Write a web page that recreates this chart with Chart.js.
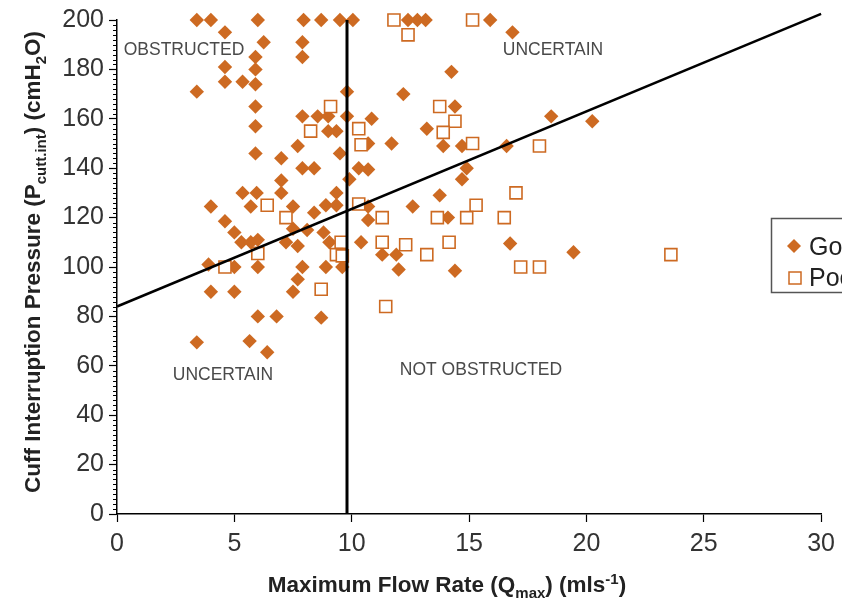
<!DOCTYPE html>
<html><head><meta charset="utf-8">
<script src="https://cdn.jsdelivr.net/npm/chart.js@4/dist/chart.umd.min.js"></script>
<style>html,body{margin:0;padding:0;background:#fff;}#wrap{width:842px;height:602px;position:relative;}</style>
</head><body><div id="wrap"><canvas id="c"></canvas></div>
<script>
// ---- data ----
const seriesNames = ['Good', 'Poor'];
const goodX = [3.4,4.0,6.0,7.95,8.7,9.5,10.05,12.4,12.8,13.15,15.9,16.85,
  4.6,6.25,5.9,7.9,7.9,4.6,5.9,4.6,5.35,5.9,3.4,9.8,
  5.9,5.9,5.9,7.9,8.55,9.0,9.8,9.0,9.35,7.7,7.0,9.5,
  7.9,8.4,7.0,7.0,5.35,5.95,
  14.25,12.2,14.4,10.85,13.2,18.5,20.25,11.7,10.7,13.9,14.7,16.6,14.9,14.7,13.75,10.3,10.7,9.9,
  12.6,14.1,10.7,10.7,10.4,11.3,11.9,12.0,14.4,16.75,19.45,
  4.0,4.6,5.0,5.3,5.7,6.0,5.7,7.5,8.4,7.5,8.1,8.8,7.2,7.7,9.05,8.9,9.35,9.35,9.6,8.9,7.9,3.9,5.0,6.0,7.7,7.5,4.0,5.0,6.0,6.8,8.7,3.4,5.65,6.4];
const goodY = [200,200,200,200,200,200,200,200,200,200,200,195,
  195,191,185,191,185,181,180,175,175,174,171,171,
  165,157,146,161,161,161,161,155,155,149,144,146,
  140,140,135,130,130,130,
  179,170,165,160,156,161,159,150,150,149,149,149,140,135.5,129,140,139.5,135.5,
  124.5,120,119,124.5,110,105,105,99,98.5,109.5,106,
  124.5,118.5,114,110,110,111,124.5,124.5,122,115.5,115,114,110,108.5,110,125,125,130,100,100,100,101,100,100,95,90,90,90,80,80,79.5,69.5,70,65.5];
const poorX = [11.8,15.15,12.4,13.75,14.4,13.9,15.15,18.0,10.3,10.4,17.0,15.3,11.3,13.65,14.9,16.5,11.3,12.3,14.15,13.2,17.2,18.0,23.6,11.45,10.3,9.1,8.25,7.2,6.4,6.0,4.6,8.7,9.55,9.35,9.6];
const poorY = [200,200,194,165,159,154.5,150,149,156,149.5,130,125,120,120,120,120,110,109,110,105,100,100,105,84,125.5,165,155,120,125,105.5,100,91,110,105,104.5];
const cutoffX = [9.8, 9.8];
const cutoffY = [0, 200];
const fitX = [0, 30];
const fitY = [84, 202.5];
const xTickValues = [0,5,10,15,20,25,30];
const regionTexts = ['OBSTRUCTED', 'UNCERTAIN', 'UNCERTAIN', 'NOT OBSTRUCTED'];

const pts = (xs, ys) => xs.map((v, i) => ({x: v, y: ys[i]}));
const ORANGE = '#cd6a22';
const FONT = "'Liberation Sans', Arial, Helvetica, sans-serif";

function drawRich(ctx, parts, x, y, align, big, small) {
  let w = 0;
  for (const [t, k] of parts) { ctx.font = (k === 'n' ? big : small); w += ctx.measureText(t).width; }
  let cx = align === 'center' ? x - w / 2 : x;
  for (const [t, k] of parts) {
    ctx.font = (k === 'n' ? big : small);
    const dy = k === 'b' ? 6 : (k === 'p' ? -8 : 0);
    ctx.fillText(t, cx, y + dy);
    cx += ctx.measureText(t).width;
  }
}

const deco = {
  id: 'deco',
  afterDraw(chart) {
    const {ctx, chartArea: a, scales: {x, y}} = chart;
    ctx.save();
    // minor y ticks
    ctx.strokeStyle = '#000'; ctx.lineWidth = 1;
    for (let v = 0; v <= 200; v += 2) {
      if (v % 20 === 0) continue;
      const py = Math.round(y.getPixelForValue(v)) + 0.5;
      ctx.beginPath(); ctx.moveTo(a.left - 4, py); ctx.lineTo(a.left, py); ctx.stroke();
    }
    // region labels
    ctx.fillStyle = '#4a4a4a';
    ctx.font = '17.5px ' + FONT;
    ctx.textAlign = 'center'; ctx.textBaseline = 'middle';
    const pos = [[184, 50], [553, 50], [223, 375], [481, 370]];
    regionTexts.forEach((t, i) => ctx.fillText(t, pos[i][0], pos[i][1]));
    // axis titles
    ctx.fillStyle = '#222';
    ctx.textAlign = 'left'; ctx.textBaseline = 'alphabetic';
    const big = 'bold 22.5px ' + FONT, small = 'bold 15px ' + FONT;
    drawRich(ctx, [['Maximum Flow Rate (Q', 'n'], ['max', 'b'], [') (mls', 'n'], ['-1', 'p'], [')', 'n']], 447, 592, 'center', big, small);
    ctx.save();
    ctx.translate(40, 262);
    ctx.rotate(-Math.PI / 2);
    drawRich(ctx, [['Cuff Interruption Pressure (P', 'n'], ['cutt.int', 'b'], [') (cmH', 'n'], ['2', 'b'], ['O)', 'n']], 0, 0, 'center', big, small);
    ctx.restore();
    // legend (cut by the right edge)
    ctx.strokeStyle = '#555'; ctx.lineWidth = 1.5;
    ctx.strokeRect(771.5, 218.5, 120, 74);
    ctx.fillStyle = ORANGE;
    ctx.beginPath(); ctx.moveTo(794, 239); ctx.lineTo(801, 246); ctx.lineTo(794, 253); ctx.lineTo(787, 246); ctx.closePath(); ctx.fill();
    ctx.strokeStyle = ORANGE; ctx.lineWidth = 1.5;
    ctx.strokeRect(789, 272, 12, 12);
    ctx.fillStyle = '#222'; ctx.font = '25px ' + FONT;
    ctx.fillText(seriesNames[0], 809, 255);
    ctx.fillText(seriesNames[1], 809, 286);
    ctx.restore();
  }
};

new Chart(document.getElementById('c'), {
  type: 'scatter',
  data: {
    datasets: [
      {label: 'cutoff', data: pts(cutoffX, cutoffY), showLine: true, borderColor: '#000', borderWidth: 3, pointRadius: 0, clip: false},
      {label: 'fit', data: pts(fitX, fitY), showLine: true, borderColor: '#000', borderWidth: 2.5, pointRadius: 0, clip: false},
      {label: seriesNames[1], data: pts(poorX, poorY), pointStyle: 'rect', pointRadius: 8.5, backgroundColor: '#fff', borderColor: ORANGE, borderWidth: 1.6, clip: false},
      {label: seriesNames[0], data: pts(goodX, goodY), pointStyle: 'rectRot', pointRadius: 7.2, backgroundColor: ORANGE, borderColor: ORANGE, borderWidth: 0, clip: false}
    ]
  },
  options: {
    responsive: true, maintainAspectRatio: false, animation: false,
    layout: {padding: {left: 0, top: 20, right: 20, bottom: 0}},
    plugins: {legend: {display: false}, tooltip: {enabled: false}},
    scales: {
      x: {
        type: 'linear', min: 0, max: 30,
        afterBuildTicks: s => { s.ticks = xTickValues.map(v => ({value: v})); },
        afterFit: s => { s.height = 88; },
        grid: {drawOnChartArea: false, tickLength: 8, color: '#000', tickWidth: 1.2},
        border: {color: '#000', width: 1.5},
        ticks: {color: '#333', font: {family: FONT, size: 25}, padding: 7, maxRotation: 0}
      },
      y: {
        type: 'linear', min: 0, max: 200,
        ticks: {stepSize: 20, color: '#333', font: {family: FONT, size: 25}, padding: 5},
        afterFit: s => { s.width = 117; },
        grid: {drawOnChartArea: false, tickLength: 8, color: '#000', tickWidth: 1.2},
        border: {color: '#000', width: 1.5}
      }
    }
  },
  plugins: [deco]
});
</script></body></html>
